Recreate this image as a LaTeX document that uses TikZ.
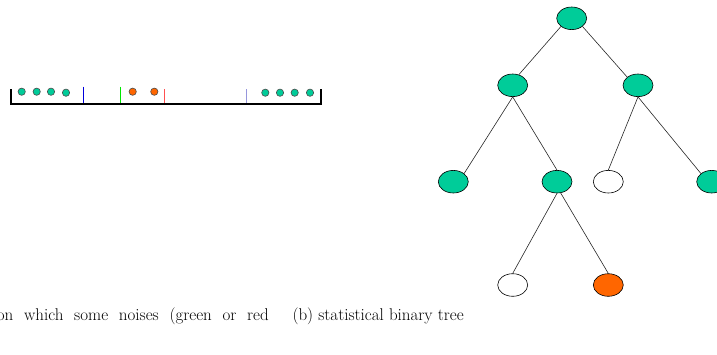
\documentclass[tikz,border=0pt]{standalone}
\usetikzlibrary{shapes.geometric}
\definecolor{tgreen}{RGB}{0,204,153}
\definecolor{torange}{RGB}{255,102,0}
\begin{document}
\begin{tikzpicture}[x=1pt,y=-1pt,
  dot/.style={circle,draw=black!70,line width=0.6pt,fill=#1,minimum size=7.3pt,inner sep=0pt},
  tnode/.style={ellipse,draw=black,line width=0.6pt,fill=#1,minimum width=30pt,minimum height=22.6pt,inner sep=0pt},
  tedge/.style={draw=black!85,line width=0.6pt},
  tickln/.style={line width=1pt},
  captxt/.style={font=\fontsize{17}{20}\selectfont,inner sep=0pt}]
\useasboundingbox (0,0) rectangle (717,354);
\clip (0,0) rectangle (717,354);
% bracket (segmentation line)
\coordinate (bl0) at (10.7,89);
\coordinate (bl1) at (10.7,103.6);
\coordinate (br1) at (320.7,103.6);
\coordinate (br0) at (320.7,89);
\draw[line width=2pt] (bl0) -- (bl1) -- (br1) -- (br0);
% dots
\node[dot=tgreen] (g1) at (21.7,91.7) {};
\node[dot=tgreen] (g2) at (36.7,91.7) {};
\node[dot=tgreen] (g3) at (51,91.7) {};
\node[dot=tgreen] (g4) at (66,92.7) {};
\node[dot=torange] (o1) at (132.7,91.7) {};
\node[dot=torange] (o2) at (154.3,91.7) {};
\node[dot=tgreen] (g5) at (265.3,92.7) {};
\node[dot=tgreen] (g6) at (280,92.7) {};
\node[dot=tgreen] (g7) at (294.7,92.7) {};
\node[dot=tgreen] (g8) at (310,92.7) {};
% boundary ticks
\coordinate (b0) at (83.3,86.7);  \coordinate (b1) at (83.3,103);
\coordinate (c0) at (120.3,86.7); \coordinate (c1) at (120.3,103);
\coordinate (d0) at (164.7,89);   \coordinate (d1) at (164.7,103);
\coordinate (e0) at (246.7,89.3); \coordinate (e1) at (246.7,103);
\draw[tickln,draw={rgb,255:red,0;green,0;blue,220}] (b0) -- (b1);
\draw[tickln,draw={rgb,255:red,0;green,230;blue,0}] (c0) -- (c1);
\draw[tickln,draw={rgb,255:red,255;green,80;blue,80}] (d0) -- (d1);
\draw[tickln,draw={rgb,255:red,150;green,150;blue,220}] (e0) -- (e1);
% tree
\node[tnode=tgreen] (root) at (571.7,18.3) {};
\node[tnode=tgreen] (l) at (512.7,85.3) {};
\node[tnode=tgreen] (r) at (638,85.3) {};
\node[tnode=tgreen] (ll) at (453.3,181.7) {};
\node[tnode=tgreen] (lr) at (557,181.7) {};
\node[tnode=white] (rl) at (608.3,181.7) {};
\node[tnode=tgreen] (rr) at (711.7,181.7) {};
\node[tnode=white] (lrl) at (512.7,285) {};
\node[tnode=torange] (lrr) at (608.3,285) {};
\draw[tedge] (root.south west) -- (l.60);
\draw[tedge] (root.south east) -- (r.north west);
\draw[tedge] (l.south) -- (ll.north east);
\draw[tedge] (l.south) -- (lr.north);
\draw[tedge] (r.south) -- (rl.north);
\draw[tedge] (r.south) -- (rr.north west);
\draw[tedge] (lr.south) -- (lrl.north);
\draw[tedge] (lr.-72) -- (lrr.north);
% captions
\node[captxt,anchor=base east] (capa) at (269,320) {\makebox[272pt][s]{on which some noises (green or red}};
\node[captxt,anchor=base west] (capb) at (292.3,320) {(b) statistical binary tree};
\end{tikzpicture}
\end{document}
